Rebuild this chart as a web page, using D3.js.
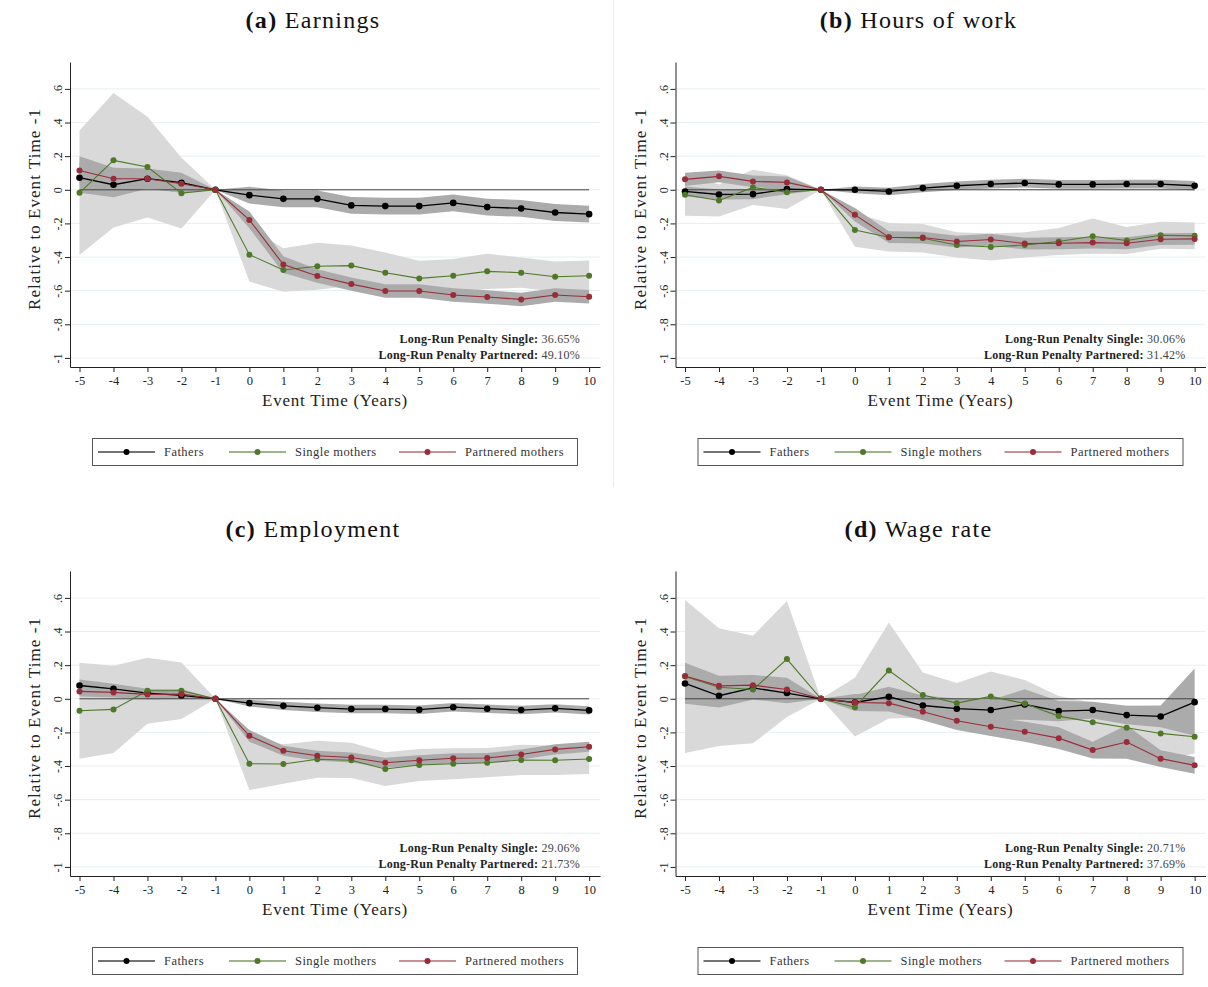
<!DOCTYPE html>
<html><head><meta charset="utf-8">
<script src="https://cdn.jsdelivr.net/npm/d3@7"></script>
<style>body{margin:0;background:#fff}svg{display:block}</style>
</head><body><svg id="c" width="1208" height="987"></svg>
<script>
const eventTime = [-5,-4,-3,-2,-1,0,1,2,3,4,5,6,7,8,9,10];
const yTicks = [0.6,0.4,0.2,0,-0.2,-0.4,-0.6,-0.8,-1];
const yTickLabels = [".6",".4",".2","0","-.2","-.4","-.6","-.8","-1"];
const seriesNames = ["Fathers","Single mothers","Partnered mothers"];
const panelLetters = ["(a)","(b)","(c)","(d)"];
const panelNames = ["Earnings","Hours of work","Employment","Wage rate"];
const penaltySingle = ["36.65%","30.06%","29.06%","20.71%"];
const penaltyPartnered = ["49.10%","31.42%","21.73%","37.69%"];

// (a) Earnings
const earnFathers   = [0.072,0.030,0.066,0.042,0,-0.032,-0.054,-0.054,-0.093,-0.097,-0.097,-0.078,-0.103,-0.111,-0.135,-0.145];
const earnFathersCI = [0.09,0.075,0.06,0.06,0,0.05,0.05,0.05,0.05,0.05,0.05,0.05,0.05,0.05,0.05,0.05];
const earnSingle    = [-0.018,0.175,0.135,-0.020,0,-0.386,-0.477,-0.455,-0.451,-0.493,-0.527,-0.511,-0.485,-0.493,-0.517,-0.511];
const earnSingleCI  = [0.37,0.40,0.30,0.21,0,0.16,0.13,0.14,0.12,0.12,0.105,0.10,0.105,0.09,0.09,0.09];
const earnPartner   = [0.115,0.066,0.066,0.036,0,-0.179,-0.445,-0.513,-0.561,-0.602,-0.602,-0.626,-0.638,-0.652,-0.626,-0.636];
const earnPartnerCI = [0.085,0.065,0.06,0.05,0,0.05,0.05,0.04,0.04,0.04,0.04,0.04,0.04,0.04,0.04,0.04];

// (b) Hours of work
const hoursFathers   = [-0.010,-0.028,-0.026,0.004,0,0.0,-0.010,0.010,0.024,0.034,0.040,0.032,0.032,0.034,0.034,0.024];
const hoursFathersCI = [0.03,0.03,0.03,0.03,0,0.02,0.022,0.024,0.025,0.026,0.026,0.026,0.026,0.026,0.026,0.028];
const hoursSingle    = [-0.030,-0.064,0.014,-0.014,0,-0.239,-0.282,-0.288,-0.328,-0.340,-0.328,-0.308,-0.276,-0.302,-0.270,-0.274];
const hoursSingleCI  = [0.125,0.095,0.105,0.10,0,0.10,0.085,0.085,0.075,0.08,0.075,0.08,0.105,0.08,0.08,0.08];
const hoursPartner   = [0.062,0.080,0.050,0.044,0,-0.149,-0.282,-0.284,-0.308,-0.296,-0.320,-0.318,-0.314,-0.318,-0.294,-0.292];
const hoursPartnerCI = [0.04,0.035,0.035,0.035,0,0.04,0.035,0.035,0.035,0.035,0.035,0.035,0.035,0.035,0.035,0.035];

// (c) Employment
const empFathers   = [0.079,0.059,0.034,0.020,0,-0.026,-0.042,-0.053,-0.061,-0.061,-0.065,-0.050,-0.059,-0.067,-0.057,-0.069];
const empFathersCI = [0.035,0.03,0.025,0.02,0,0.02,0.025,0.025,0.025,0.025,0.025,0.025,0.025,0.025,0.025,0.025];
const empSingle    = [-0.071,-0.063,0.048,0.048,0,-0.386,-0.388,-0.360,-0.366,-0.418,-0.394,-0.386,-0.380,-0.364,-0.366,-0.358];
const empSingleCI  = [0.286,0.26,0.196,0.168,0,0.157,0.118,0.11,0.105,0.10,0.095,0.092,0.087,0.09,0.088,0.09];
const empPartner   = [0.044,0.038,0.026,0.028,0,-0.220,-0.309,-0.339,-0.349,-0.380,-0.366,-0.354,-0.352,-0.331,-0.301,-0.285];
const empPartnerCI = [0.03,0.03,0.03,0.03,0,0.035,0.03,0.03,0.03,0.03,0.03,0.03,0.03,0.03,0.03,0.03];

// (d) Wage rate
const wageFathers   = [0.091,0.018,0.065,0.034,0,-0.022,0.012,-0.040,-0.059,-0.067,-0.034,-0.073,-0.067,-0.097,-0.105,-0.020];
const wageFathersCI = [0.12,0.07,0.07,0.06,0,0.045,0.06,0.06,0.06,0.06,0.09,0.06,0.05,0.055,0.065,0.20];
const wageSingle    = [0.133,0.069,0.055,0.236,0,-0.050,0.168,0.022,-0.026,0.014,-0.028,-0.103,-0.139,-0.172,-0.206,-0.226];
const wageSingleCI  = [0.455,0.35,0.32,0.345,0,0.175,0.285,0.135,0.12,0.148,0.14,0.12,0.115,0.13,0.16,0.10];
const wagePartner   = [0.135,0.077,0.081,0.055,0,-0.022,-0.026,-0.077,-0.131,-0.166,-0.196,-0.234,-0.305,-0.257,-0.356,-0.396];
const wagePartnerCI = [0.08,0.06,0.06,0.07,0,0.05,0.05,0.05,0.055,0.055,0.06,0.065,0.05,0.10,0.05,0.05];

const panels = [
  {est:[earnFathers,earnSingle,earnPartner], ci:[earnFathersCI,earnSingleCI,earnPartnerCI]},
  {est:[hoursFathers,hoursSingle,hoursPartner], ci:[hoursFathersCI,hoursSingleCI,hoursPartnerCI]},
  {est:[empFathers,empSingle,empPartner], ci:[empFathersCI,empSingleCI,empPartnerCI]},
  {est:[wageFathers,wageSingle,wagePartner], ci:[wageFathersCI,wageSingleCI,wagePartnerCI]}
];

const lineColors = ["#000000","#4e7a27","#9a2c38"];
const legendLineColors = ["#444444","#7d9c62","#b56b72"];
const bandColors = ["#ababab","#d9d9d9","#ababab"];
const FONT = "'Liberation Serif', 'DejaVu Serif', serif";

const svg = d3.select("#c");
svg.append("rect").attr("width",1208).attr("height",987).attr("fill","#fff");

const offsets = [[0,0],[605.5,0],[0,509],[605.5,509]];

// panel divider
svg.append("line").attr("x1",613.5).attr("x2",613.5).attr("y1",0).attr("y2",487).attr("stroke","#ececec").attr("stroke-width",1);

panels.forEach((p, pi) => {
  const [ox, oy] = offsets[pi];
  const g = svg.append("g").attr("transform", `translate(${ox},${oy})`);
  const x = d3.scaleLinear().domain([-5.28, 10.32]).range([70, 600]);
  const y = d3.scaleLinear().domain([-1.054, 0.76]).range([367, 62]);

  // title
  const t = g.append("text").attr("x", 313).attr("y", 28).attr("text-anchor","middle")
    .attr("font-family", FONT).attr("font-size", 24).attr("letter-spacing", 1.3).attr("fill","#111");
  t.append("tspan").attr("font-weight","bold").text(panelLetters[pi]);
  t.append("tspan").text(" " + panelNames[pi]);

  // gridlines
  g.append("g").selectAll("line").data(yTicks).join("line")
    .attr("x1", 70).attr("x2", 600).attr("y1", d => y(d)).attr("y2", d => y(d))
    .attr("stroke", "#e6eff1").attr("stroke-width", 1);

  // bands: single (light) first, then fathers and partnered (dark)
  const area = ci => d3.area().x((d,i) => x(eventTime[i]))
    .y0((d,i) => y(d - ci[i])).y1((d,i) => y(d + ci[i]));
  [1,0,2].forEach(si => {
    g.append("path").datum(p.est[si]).attr("d", area(p.ci[si]))
      .attr("fill", bandColors[si]).attr("stroke","none");
  });

  // zero line
  g.append("line").attr("x1", x(-5)).attr("x2", x(10)).attr("y1", y(0)).attr("y2", y(0))
    .attr("stroke", "#444").attr("stroke-width", 1);

  // series lines and markers
  const line = d3.line().x((d,i) => x(eventTime[i])).y(d => y(d));
  [0,1,2].forEach(si => {
    g.append("path").datum(p.est[si]).attr("d", line).attr("fill","none")
      .attr("stroke", lineColors[si]).attr("stroke-width", si === 0 ? 1.3 : 1.1);
    g.append("g").selectAll("circle").data(p.est[si]).join("circle")
      .attr("cx", (d,i) => x(eventTime[i])).attr("cy", d => y(d))
      .attr("r", si === 0 ? 3.3 : 3.0).attr("fill", lineColors[si]);
  });

  // axes
  const yAxis = g.append("g").attr("transform","translate(70,0)")
    .call(d3.axisLeft(y).tickValues(yTicks).tickFormat((d,i) => yTickLabels[i]).tickSize(5).tickSizeOuter(0));
  yAxis.select(".domain").attr("stroke","#222");
  yAxis.selectAll(".tick line").attr("stroke","#222");
  yAxis.selectAll(".tick text").attr("transform","rotate(-90)")
    .attr("x", 0).attr("y", -8).attr("dy", 0).attr("text-anchor","middle")
    .attr("font-family", FONT).attr("font-size", 12).attr("fill","#222");

  const xAxis = g.append("g").attr("transform","translate(0,367)")
    .call(d3.axisBottom(x).tickValues(eventTime).tickFormat(d3.format("d")).tickSize(5).tickSizeOuter(0));
  xAxis.select(".domain").attr("stroke","#222");
  xAxis.selectAll(".tick line").attr("stroke","#222");
  xAxis.selectAll(".tick text").attr("y", 9).attr("dy","0.71em")
    .attr("font-family", FONT).attr("font-size", 12.5).attr("fill","#222")
    .text(d => d < 0 ? "-" + Math.abs(d) : d);

  // axis titles
  g.append("text").attr("transform", `translate(40,209) rotate(-90)`)
    .attr("text-anchor","middle").attr("font-family", FONT).attr("font-size", 17)
    .attr("letter-spacing", 1.05).attr("fill","#222")
    .text("Relative to Event Time -1");
  g.append("text").attr("x", 335).attr("y", 406).attr("text-anchor","middle")
    .attr("font-family", FONT).attr("font-size", 17).attr("letter-spacing", 0.75).attr("fill","#222")
    .text("Event Time (Years)");

  // annotations
  const ann = [["Long-Run Penalty Single: ", penaltySingle[pi], 343],
               ["Long-Run Penalty Partnered: ", penaltyPartnered[pi], 359]];
  ann.forEach(([lab, val, yy]) => {
    const tx = g.append("text").attr("x", 580).attr("y", yy).attr("text-anchor","end")
      .attr("font-family", FONT).attr("font-size", 12).attr("letter-spacing", 0.25).attr("fill","#222");
    tx.append("tspan").attr("font-weight","bold").text(lab);
    tx.append("tspan").attr("fill","#444").text(val);
  });

  // legend
  const lg = g.append("g");
  lg.append("rect").attr("x", 92.5).attr("y", 438.5).attr("width", 485).attr("height", 27)
    .attr("fill","#fff").attr("stroke","#555").attr("stroke-width",1);
  const lx = [98, 229, 399];
  seriesNames.forEach((nm, si) => {
    lg.append("line").attr("x1", lx[si]).attr("x2", lx[si] + 57).attr("y1", 452).attr("y2", 452)
      .attr("stroke", legendLineColors[si]).attr("stroke-width", 1.3);
    lg.append("circle").attr("cx", lx[si] + 28.5).attr("cy", 452).attr("r", 3).attr("fill", lineColors[si]);
    lg.append("text").attr("x", lx[si] + 66).attr("y", 456).attr("font-family", FONT)
      .attr("font-size", 12.5).attr("letter-spacing", 0.45).attr("fill","#333").text(nm);
  });
});
</script></body></html>
